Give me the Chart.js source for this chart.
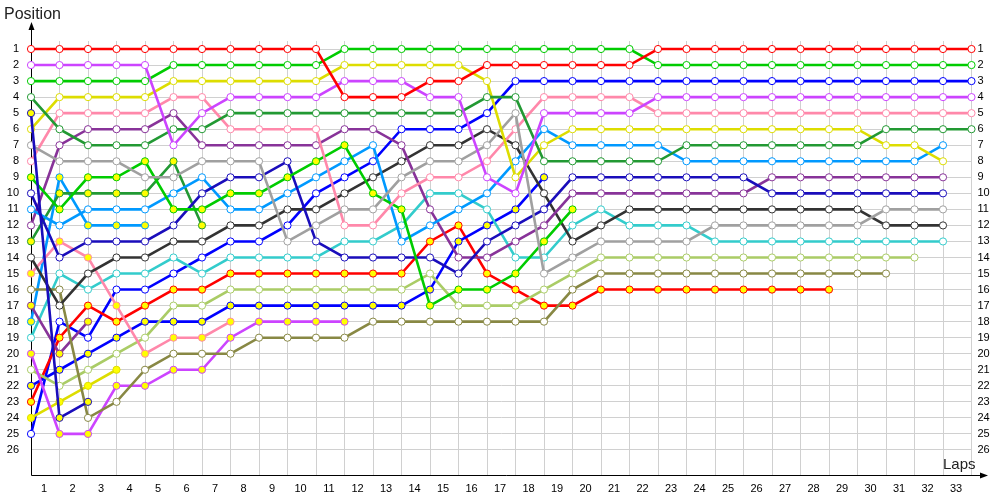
<!DOCTYPE html>
<html><head><meta charset="utf-8">
<script src="https://cdn.jsdelivr.net/npm/chart.js@4.4.0/dist/chart.umd.min.js"></script>
<style>html,body{margin:0;padding:0;background:#fff;}canvas{display:block;}</style>
</head><body>
<canvas id="c" width="1000" height="500"></canvas>
<script>
// Tick labels
const lapLabels = ['1','2','3','4','5','6','7','8','9','10','11','12','13','14','15','16','17','18','19','20','21','22','23','24','25','26','27','28','29','30','31','32','33'];
const positionLabels = ['1','2','3','4','5','6','7','8','9','10','11','12','13','14','15','16','17','18','19','20','21','22','23','24','25','26'];

// Position of each car at lap 0 (grid), 1, 2, ...
const red1      = [1,1,1,1,1,1,1,1,1,1,1,4,4,4,3,3,2,2,2,2,2,2,1,1,1,1,1,1,1,1,1,1,1,1];
const violet1   = [2,2,2,2,2,7,5,4,4,4,4,3,3,3,4,4,9,10,5,5,5,5,4,4,4,4,4,4,4,4,4,4,4,4];
const green1    = [3,3,3,3,3,2,2,2,2,2,2,1,1,1,1,1,1,1,1,1,1,1,2,2,2,2,2,2,2,2,2,2,2,2];
const darkgreen1= [4,6,7,7,7,6,6,5,5,5,5,5,5,5,5,5,4,4,8,8,8,8,8,7,7,7,7,7,7,7,6,6,6,6];
const navy1     = [5,24,23];
const yellow1   = [6,4,4,4,4,3,3,3,3,3,3,2,2,2,2,2,3,9,7,6,6,6,6,6,6,6,6,6,6,6,7,7,8];
const gray1     = [7,8,8,8,9,9,8,8,8,13,12,11,11,9,8,8,7,5,15,14,13,13,13,13,12,12,12,12,12,12,11,11,11];
const pink1     = [8,5,5,5,5,4,4,6,6,6,6,12,12,10,9,9,8,6,4,4,4,4,5,5,5,5,5,5,5,5,5,5,5,5];
const green2    = [9,11,9,9,8,11,11,10,10,9,8,7,10,11,17,16,16,15,13,11];
const navy2     = [10,14,13,13,13,12,10,9,9,8,13,14,14,14,14,15,13,12,11,9,9,9,9,9,9,9,10,10,10,10,10,10,10];
const lightblue1= [11,12,11,11,11,10,9,11,11,10,9,8,7,13,12,11,10,8,6,7,7,7,7,8,8,8,8,8,8,8,8,8,7];
const purple1   = [12,7,6,6,6,5,7,7,7,7,7,6,6,7,11,14,14,13,12,10,10,10,10,10,10,10,9,9,9,9,9,9,9];
const darkgreen2= [13,10,10,10,10,8,12];
const black1    = [14,17,15,14,14,13,13,12,12,11,11,10,9,8,7,7,6,7,10,13,12,11,11,11,11,11,11,11,11,11,12,12,12];
const pink2     = [15,13,14,17,20,19,19,18];
const olive1    = [16,16,24,23,21,20,20,20,19,19,19,19,18,18,18,18,18,18,18,16,15,15,15,15,15,15,15,15,15,15,15];
const purple2   = [17,20,18];
const lightblue2= [18,9,12,12,12];
const teal1     = [19,15,16,15,15,14,15,14,14,14,14,13,13,12,10,10,11,14,14,12,11,12,12,12,13,13,13,13,13,13,13,13,13];
const violet2   = [20,25,25,22,22,21,21,19,18,18,18,18];
const lightgreen1=[21,22,21,20,19,17,17,16,16,16,16,16,16,16,15,17,17,17,16,15,14,14,14,14,14,14,14,14,14,14,14,14];
const blue1     = [22,21,20,19,18,18,18,17,17,17,17,17,17,17,16,13,12,11,9];
const red2      = [23,19,17,18,17,16,16,15,15,15,15,15,15,15,13,12,15,16,17,17,16,16,16,16,16,16,16,16,16];
const yellow2   = [24,23,22,21];
const blue2     = [25,18,19,16,16,15,14,13,13,12,10,9,8,6,6,6,5,3,3,3,3,3,3,3,3,3,3,3,3,3,3,3,3,3];

// Styling (kept apart from the data)
const series = [
  {data: red1, color:'#ff0000', filled:false},
  {data: violet1, color:'#cc44ff', filled:false},
  {data: green1, color:'#00cc00', filled:false},
  {data: darkgreen1, color:'#229933', filled:false},
  {data: navy1, color:'#1a0dbb', filled:true},
  {data: yellow1, color:'#dddd00', filled:false},
  {data: gray1, color:'#a0a0a0', filled:false},
  {data: pink1, color:'#ff88aa', filled:false},
  {data: green2, color:'#00cc00', filled:true},
  {data: navy2, color:'#1a0dbb', filled:false},
  {data: lightblue1, color:'#0099ff', filled:false},
  {data: purple1, color:'#883399', filled:false},
  {data: darkgreen2, color:'#229933', filled:true},
  {data: black1, color:'#333333', filled:false},
  {data: pink2, color:'#ff88aa', filled:true},
  {data: olive1, color:'#888844', filled:false},
  {data: purple2, color:'#883399', filled:true},
  {data: lightblue2, color:'#0099ff', filled:true},
  {data: teal1, color:'#33cccc', filled:false},
  {data: violet2, color:'#cc44ff', filled:true},
  {data: lightgreen1, color:'#aacc66', filled:false},
  {data: blue1, color:'#0000ff', filled:true},
  {data: red2, color:'#ff0000', filled:true},
  {data: yellow2, color:'#dddd00', filled:true},
  {data: blue2, color:'#0000ff', filled:false}
];

const FONT = "'Liberation Sans', Arial, sans-serif";

const axesPlugin = {
  id: 'axesPlugin',
  beforeDatasetsDraw(chart) {
    const ctx = chart.ctx, a = chart.chartArea;
    ctx.save();
    ctx.strokeStyle = '#000'; ctx.fillStyle = '#000'; ctx.lineWidth = 1;
    const x0 = Math.round(a.left) + 0.5, y0 = Math.round(a.bottom) + 0.5;
    ctx.beginPath(); ctx.moveTo(x0, y0); ctx.lineTo(x0, 28); ctx.stroke();
    ctx.beginPath(); ctx.moveTo(x0, 22); ctx.lineTo(x0 - 3, 30); ctx.lineTo(x0 + 3, 30); ctx.closePath(); ctx.fill();
    ctx.beginPath(); ctx.moveTo(x0, y0); ctx.lineTo(982, y0); ctx.stroke();
    ctx.beginPath(); ctx.moveTo(988, y0); ctx.lineTo(980, y0 - 3); ctx.lineTo(980, y0 + 3); ctx.closePath(); ctx.fill();
    ctx.restore();
  },
  afterDraw(chart) {
    const ctx = chart.ctx;
    ctx.save();
    ctx.fillStyle = '#222';
    ctx.textBaseline = 'middle';
    ctx.font = '16px ' + FONT;
    ctx.textAlign = 'left';
    ctx.fillText('Position', 4, 15);
    ctx.font = '15px ' + FONT;
    ctx.fillText('Laps', 943, 465);
    ctx.restore();
  }
};

new Chart(document.getElementById('c'), {
  type: 'line',
  data: {
    datasets: series.map(s => ({
      data: s.data.map((p, i) => ({x: i, y: p})),
      borderColor: s.color,
      backgroundColor: s.filled ? '#ffff00' : '#ffffff',
      pointBorderColor: s.color,
      pointBackgroundColor: s.filled ? '#ffff00' : '#ffffff',
      borderWidth: 2.6,
      pointRadius: 3.6,
      pointBorderWidth: 1,
      tension: 0,
      fill: false,
      clip: false
    }))
  },
  options: {
    responsive: false,
    animation: false,
    layout: {padding: {top: 41, left: 0, right: 0, bottom: 0}},
    plugins: {legend: {display: false}, tooltip: {enabled: false}},
    scales: {
      x: {
        type: 'linear', min: 0, max: lapLabels.length,
        afterBuildTicks: s => { s.ticks = Array.from({length: lapLabels.length + 1}, (_, i) => ({value: i})); },
        afterFit: s => { s.height = 25; },
        grid: {color: '#d0d0d0', lineWidth: 1, drawTicks: false},
        border: {display: false},
        ticks: {
          autoSkip: false, maxRotation: 0, padding: 7, labelOffset: 13,
          color: '#000', font: {family: FONT, size: 11},
          callback: (v, i) => lapLabels[i] !== undefined ? lapLabels[i] : ''
        }
      },
      y: {
        type: 'linear', reverse: true, min: 0.5, max: 27.5625, position: 'left',
        afterBuildTicks: s => { s.ticks = positionLabels.map((l, i) => ({value: i + 1})); },
        afterFit: s => { s.width = 31; },
        grid: {color: '#d0d0d0', lineWidth: 1, drawTicks: false},
        border: {display: false},
        ticks: {padding: 12, color: '#000', font: {family: FONT, size: 11},
          callback: (v, i) => positionLabels[i]}
      },
      y2: {
        type: 'linear', reverse: true, min: 0.5, max: 27.5625, position: 'right',
        afterBuildTicks: s => { s.ticks = positionLabels.map((l, i) => ({value: i + 1})); },
        afterFit: s => { s.width = 28.5; },
        grid: {drawOnChartArea: false, drawTicks: false},
        border: {display: false},
        ticks: {padding: 6, color: '#000', font: {family: FONT, size: 11},
          callback: (v, i) => positionLabels[i]}
      }
    }
  },
  plugins: [axesPlugin]
});
</script>
</body></html>
